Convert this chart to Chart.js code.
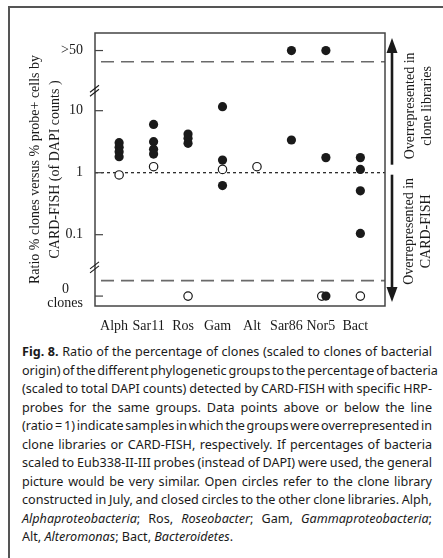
<!DOCTYPE html>
<html>
<head>
<meta charset="utf-8">
<script src="https://cdn.jsdelivr.net/npm/chart.js@4"></script>
<style>
  body { margin: 0; background: #fff; width: 443px; height: 558px; overflow: hidden; position: relative; }
  #frame { position: absolute; left: 8px; top: 6px; width: 470px; height: 600px; border: 2px solid #555; box-sizing: border-box; }
  #chartBox { position: absolute; left: 0; top: 0; width: 443px; height: 340px; }
  #caption { position: absolute; left: 22px; top: 343px; width: 410px; font-family: "Noto Sans", sans-serif; font-size: 12.6px; line-height: 18.5px; color: #1a1a1a; }
  #caption div { text-align: justify; text-align-last: justify; white-space: nowrap; word-spacing: -1.5px; }
  #caption div.last { text-align-last: left; word-spacing: 0; }
</style>
</head>
<body>
<div id="frame"></div>
<div id="chartBox"><canvas id="ratioChart" width="443" height="340"></canvas></div>
<div id="caption">
  <div><b>Fig. 8.</b> Ratio of the percentage of clones (scaled to clones of bacterial</div>
  <div>origin) of the different phylogenetic groups to the percentage of bacteria</div>
  <div>(scaled to total DAPI counts) detected by CARD-FISH with specific HRP-</div>
  <div>probes for the same groups. Data points above or below the line</div>
  <div>(ratio = 1) indicate samples in which the groups were overrepresented in</div>
  <div>clone libraries or CARD-FISH, respectively. If percentages of bacteria</div>
  <div>scaled to Eub338-II-III probes (instead of DAPI) were used, the general</div>
  <div>picture would be very similar. Open circles refer to the clone library</div>
  <div>constructed in July, and closed circles to the other clone libraries. Alph,</div>
  <div><i>Alphaproteobacteria</i>; Ros, <i>Roseobacter</i>; Gam, <i>Gammaproteobacteria</i>;</div>
  <div class="last">Alt, <i>Alteromonas</i>; Bact, <i>Bacteroidetes</i>.</div>
</div>
<script>
// groups on the x axis
const groups = ['Alph', 'Sar11', 'Ros', 'Gam', 'Alt', 'Sar86', 'Nor5', 'Bact'];

// ratio values per group (Infinity = ">50", 0 = "0 clones")
const closedRatios = [
  [3.05, 2.57, 2.18, 1.81],
  [6.0, 3.16, 2.38, 2.0],
  [4.2, 3.6, 2.98],
  [11.6, 1.6, 0.62],
  [],
  [Infinity, 3.37],
  [Infinity, 1.75, 0],
  [1.75, 1.13, 0.51, 0.105]
];
const openRatios = [
  [0.92],
  [1.25],
  [0],
  [1.13],
  [1.25],
  [],
  [0],
  [0]
];

const yTickRatios = [Infinity, 10, 1, 0.1, 0];
const yTickLabels = ['>50', '10', '1', '0.1', ['0\u00a0\u00a0\u00a0\u00a0', 'clones']];

// broken log axis: log10 in the middle, special rows for >50 and 0 clones
const OVER_POS = 1.97;
const ZERO_POS = -1.99;
function pos(r) {
  if (r === Infinity) return OVER_POS;
  if (r === 0) return ZERO_POS;
  return Math.log10(r);
}

const closedPoints = [];
const openPoints = [];
groups.forEach((g, i) => {
  closedRatios[i].forEach(r => closedPoints.push({ x: i, y: pos(r) }));
  openRatios[i].forEach(r => {
    // nudge an open circle left when it sits on a closed one
    const shift = closedRatios[i].includes(r) ? -0.12 : 0;
    openPoints.push({ x: i + shift, y: pos(r) });
  });
});

const serif = 'Liberation Serif';
const ink = '#1a1a1a';

const decor = {
  id: 'decor',
  beforeDatasetsDraw(chart) {
    const { ctx, chartArea: a, scales: { y } } = chart;
    ctx.save();
    // ratio = 1 line
    ctx.strokeStyle = ink;
    ctx.lineWidth = 1.2;
    ctx.setLineDash([3, 3]);
    ctx.beginPath();
    ctx.moveTo(a.left, y.getPixelForValue(0));
    ctx.lineTo(a.right, y.getPixelForValue(0));
    ctx.stroke();
    // break lines
    ctx.strokeStyle = '#6a6a6a';
    ctx.lineWidth = 1.6;
    ctx.setLineDash([13, 7]);
    [1.79, -1.74].forEach(v => {
      const py = y.getPixelForValue(v);
      ctx.beginPath();
      ctx.moveTo(a.left + 6, py);
      ctx.lineTo(a.right, py);
      ctx.stroke();
    });
    ctx.restore();
  },
  afterDraw(chart) {
    const { ctx, chartArea: a, scales: { y } } = chart;
    ctx.save();
    // plot frame
    ctx.strokeStyle = '#444';
    ctx.lineWidth = 1.5;
    ctx.strokeRect(a.left, a.top, a.right - a.left, a.bottom - a.top);
    // inward tick marks
    ctx.lineWidth = 1.2;
    y.ticks.forEach(t => {
      const py = y.getPixelForValue(t.value);
      ctx.beginPath();
      ctx.moveTo(a.left, py);
      ctx.lineTo(a.left + 8, py);
      ctx.stroke();
    });
    // axis break marks
    ctx.strokeStyle = ink;
    ctx.lineWidth = 1.1;
    [1.33, -1.52].forEach(v => {
      const py = y.getPixelForValue(v);
      [0, 4].forEach(d => {
        ctx.beginPath();
        ctx.moveTo(a.left - 5, py + 2 + d);
        ctx.lineTo(a.left + 4, py - 5 + d);
        ctx.stroke();
      });
    });
    // arrows on the right
    const ax = a.right + 7;
    const mid = y.getPixelForValue(0);
    ctx.fillStyle = ink;
    ctx.strokeStyle = ink;
    ctx.lineWidth = 2.6;
    function arrow(y0, y1) {
      const dir = Math.sign(y1 - y0);
      ctx.beginPath();
      ctx.moveTo(ax, y0);
      ctx.lineTo(ax, y1 - dir * 10);
      ctx.stroke();
      ctx.beginPath();
      ctx.moveTo(ax, y1);
      ctx.lineTo(ax - 5.5, y1 - dir * 15);
      ctx.lineTo(ax + 5.5, y1 - dir * 15);
      ctx.closePath();
      ctx.fill();
    }
    arrow(mid - 8, a.top + 5);
    arrow(mid + 2, a.bottom - 4);
    // side labels
    ctx.font = '14px "' + serif + '"';
    ctx.textAlign = 'center';
    ctx.textBaseline = 'middle';
    function vtext(lines, cx, cy) {
      ctx.save();
      ctx.translate(cx, cy);
      ctx.rotate(-Math.PI / 2);
      lines.forEach((s, i) => ctx.fillText(s, 0, (i - (lines.length - 1) / 2) * 17));
      ctx.restore();
    }
    vtext(['Overrepresented in', 'clone libraries'], ax + 27, (a.top + mid) / 2 + 3);
    vtext(['Overrepresented in', 'CARD-FISH'], ax + 26, (mid + a.bottom) / 2 - 8);
    ctx.restore();
  }
};

new Chart(document.getElementById('ratioChart'), {
  type: 'scatter',
  data: {
    datasets: [
      {
        label: 'Other clone libraries',
        data: closedPoints,
        pointRadius: 4.6,
        pointBackgroundColor: ink,
        pointBorderColor: ink,
        pointBorderWidth: 0,
        order: 0
      },
      {
        label: 'July clone library',
        data: openPoints,
        pointRadius: 4.2,
        pointBackgroundColor: '#fff',
        pointBorderColor: ink,
        pointBorderWidth: 1.2,
        order: 1
      }
    ]
  },
  options: {
    responsive: false,
    animation: false,
    devicePixelRatio: 1,
    layout: { padding: { left: 0, right: 58, top: 33, bottom: 0 } },
    plugins: { legend: { display: false }, tooltip: { enabled: false } },
    scales: {
      x: {
        type: 'linear',
        min: -0.70,
        max: 7.715,
        grid: { display: false },
        border: { display: false },
        afterBuildTicks: scale => { scale.ticks = groups.map((g, i) => ({ value: i })); },
        afterFit: scale => { scale.height = 34; },
        ticks: {
          autoSkip: false,
          maxRotation: 0,
          padding: 4,
          labelOffset: -5,
          color: ink,
          font: { family: serif, size: 14 },
          callback: v => groups[v]
        }
      },
      y: {
        type: 'linear',
        min: -2.15,
        max: 2.253,
        grid: { display: false },
        border: { display: false },
        afterBuildTicks: scale => { scale.ticks = yTickRatios.map(r => ({ value: pos(r) })); },
        afterFit: scale => { scale.width = 95; },
        ticks: {
          autoSkip: false,
          padding: 4,
          color: ink,
          font: { family: serif, size: 14, lineHeight: 1 },
          callback: (v, i) => yTickLabels[i]
        },
        title: {
          display: true,
          text: ['Ratio % clones versus % probe+ cells by', 'CARD-FISH (of DAPI counts )'],
          color: ink,
          font: { family: serif, size: 14, lineHeight: 1.43 },
          padding: { top: 25, bottom: 0 }
        }
      }
    }
  },
  plugins: [decor]
});
</script>
</body>
</html>
